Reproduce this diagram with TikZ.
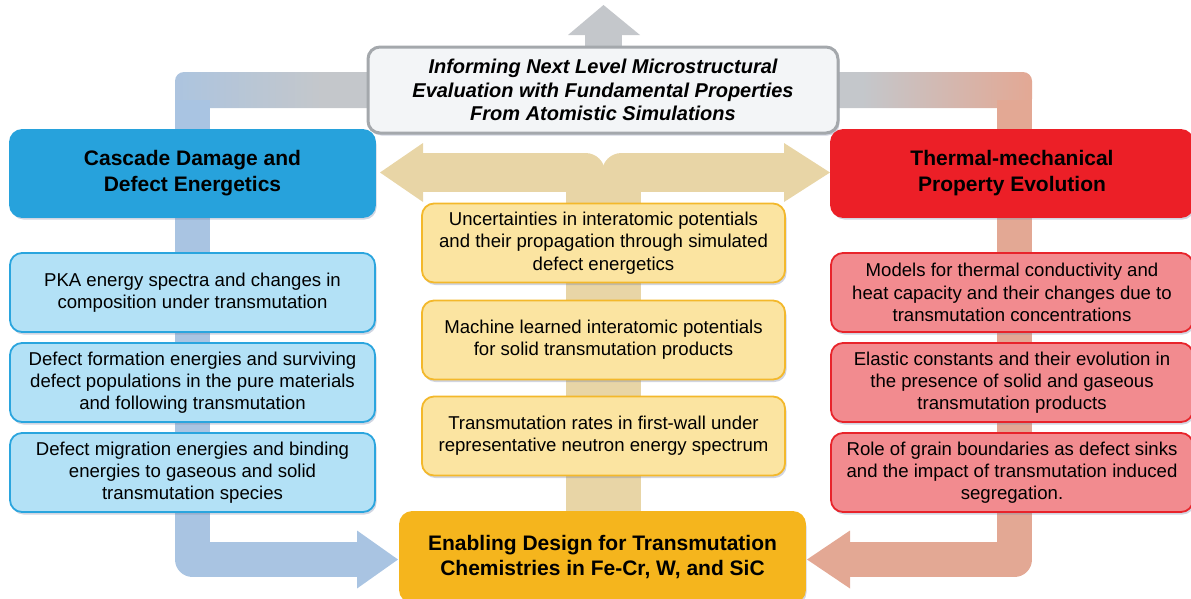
\documentclass[tikz,border=0pt]{standalone}
\usepackage{fontspec}
\setmainfont{Liberation Sans}
\usetikzlibrary{shadows}

\definecolor{trackblue}{HTML}{A9C4E2}
\definecolor{trackgray}{HTML}{C4C7CB}
\definecolor{tracksalmon}{HTML}{E3A894}
\definecolor{tracktan}{HTML}{E8D5A6}
\definecolor{topfill}{HTML}{F3F5F7}
\definecolor{topline}{HTML}{A4A8AC}
\definecolor{cascblue}{HTML}{27A2DC}
\definecolor{subblue}{HTML}{B3E1F6}
\definecolor{subblueline}{HTML}{2AA5DE}
\definecolor{subyel}{HTML}{FBE4A1}
\definecolor{subyelline}{HTML}{F3B82B}
\definecolor{enableyel}{HTML}{F5B51D}
\definecolor{thermred}{HTML}{EC1F27}
\definecolor{subred}{HTML}{F28B8F}
\definecolor{subredline}{HTML}{E8242B}
\definecolor{boxshadow}{HTML}{7A86A8}

\pgfdeclarehorizontalshading{bluetogray}{100bp}{color(0bp)=(trackblue); color(20bp)=(trackblue); color(60bp)=(trackgray); color(100bp)=(trackgray)}
\pgfdeclarehorizontalshading{graytosalmon}{100bp}{color(0bp)=(trackgray); color(35bp)=(trackgray); color(75bp)=(tracksalmon); color(100bp)=(tracksalmon)}

\tikzset{
  box/.style={rounded corners=12, align=center, inner sep=0pt, line width=1.8,
    minimum width=365, minimum height=79, font=\fontsize{18.6}{22.3}\selectfont,
    drop shadow={shadow xshift=1.5pt, shadow yshift=-2.5pt, fill=boxshadow, opacity=0.35}},
  headbox/.style={box, minimum height=87, font=\fontsize{21}{26}\selectfont\bfseries},
  bluebox/.style={box, fill=subblue, draw=subblueline},
  yelbox/.style={box, minimum width=363, fill=subyel, draw=subyelline},
  redbox/.style={box, minimum width=362, fill=subred, draw=subredline},
  trackline/.style={line width=35, line join=round}
}

\begin{document}
\begin{tikzpicture}[x=1pt,y=1pt,yscale=-1]
\useasboundingbox (0,0) rectangle (1191,598);

%Shape: upward arrow behind the top box
\fill[trackgray] (585,30) rectangle (622,80);
\fill[trackgray] (568,35) -- (603.5,5) -- (640,35) -- cycle;
%Shape: top bars
\fill[trackgray] (370,72) rectangle (840,108);
\fill[trackblue] (175,90) rectangle (210,110);
\shade[shading=bluetogray, rounded corners=9] (175,72) rectangle (385,108);
\shade[shading=graytosalmon, rounded corners=9] (820,72) rectangle (1032,108);
%Shape: left track down to the bottom box
\draw[trackline, trackblue] (192.5,100) -- (192.5,559.5) -- (360,559.5);
\fill[trackblue] (357,530.5) -- (398,559.5) -- (357,588.5) -- cycle;
%Shape: right track down to the bottom box
\draw[trackline, tracksalmon] (1014.5,100) -- (1014.5,559.5) -- (846,559.5);
\fill[tracksalmon] (850,530.5) -- (807,559.5) -- (850,588.5) -- cycle;
%Shape: central T arrow
\fill[tracktan] (566,185) rectangle (641,515);
\draw[tracktan, line width=39, line join=round] (422,172.5) -- (585.5,172.5) -- (585.5,200);
\draw[tracktan, line width=39, line join=round] (785,172.5) -- (621.5,172.5) -- (621.5,200);
\fill[tracktan] (423,143) -- (380,172.5) -- (423,202) -- cycle;
\fill[tracktan] (784,143) -- (830,172.5) -- (784,202) -- cycle;

% Top box
\node[box, minimum width=470, minimum height=86, line width=3, fill=topfill, draw=topline,
  font=\fontsize{20}{23.5}\selectfont\bfseries\itshape] (inform) at (603,90)
  {Informing Next Level Microstructural\\Evaluation with Fundamental Properties\\From Atomistic Simulations};

% Left column
\node[headbox, fill=cascblue, draw=cascblue] (cascade) at (192.5,173.5) {Cascade Damage and\\Defect Energetics};
\node[bluebox] (pka) at (192.5,292.5) {PKA energy spectra and changes in\\composition under transmutation};
\node[bluebox] (formation) at (192.5,382.5) {Defect formation energies and surviving\\defect populations in the pure materials\\and following transmutation};
\node[bluebox] (migration) at (192.5,472.5) {Defect migration energies and binding\\energies to gaseous and solid\\transmutation species};

% Middle column
\node[yelbox] (uncert) at (603.5,243) {Uncertainties in interatomic potentials\\and their propagation through simulated\\defect energetics};
\node[yelbox] (mlip) at (603.5,340) {Machine learned interatomic potentials\\for solid transmutation products};
\node[yelbox] (rates) at (603.5,436) {Transmutation rates in first-wall under\\representative neutron energy spectrum};

% Right column
\node[headbox, minimum width=362, fill=thermred, draw=thermred] (thermal) at (1012,173.5) {Thermal-mechanical\\Property Evolution};
\node[redbox] (conduct) at (1012,292.5) {Models for thermal conductivity and\\heat capacity and their changes due to\\transmutation concentrations};
\node[redbox] (elastic) at (1012,382.5) {Elastic constants and their evolution in\\the presence of solid and gaseous\\transmutation products};
\node[redbox] (grain) at (1012,472.5) {Role of grain boundaries as defect sinks\\and the impact of transmutation induced\\segregation.};

% Bottom box
\node[headbox, minimum width=405, minimum height=90, fill=enableyel, draw=enableyel,
  font=\fontsize{21}{25}\selectfont\bfseries] (enable) at (602.5,557)
  {Enabling Design for Transmutation\\Chemistries in Fe-Cr, W, and SiC};

\end{tikzpicture}
\end{document}
